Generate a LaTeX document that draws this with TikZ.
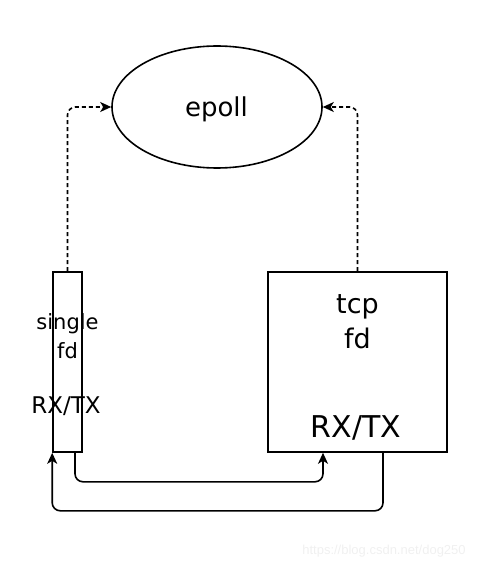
\documentclass[tikz,border=0pt]{standalone}
\usepackage{fontspec}
\setmainfont{DejaVu Sans}
\newfontfamily\markfont{Liberation Sans}
\usetikzlibrary{shapes.geometric,arrows.meta}

\begin{document}
\begin{tikzpicture}[x=1pt,y=-1pt,>={Stealth[length=11pt,width=10pt,inset=3pt]},line width=1.6pt]
        \tikzstyle{every node}=[inner sep=0pt]
        \tikzstyle{box}=[draw,rectangle]
        \tikzstyle{small text}=[anchor=base,font=\fontsize{21}{25}\selectfont]
        \tikzstyle{big text}=[anchor=base,font=\fontsize{27}{32}\selectfont]
        \tikzstyle{link}=[->,rounded corners=8pt]
        \tikzstyle{poll}=[link,dash pattern=on 4pt off 3pt]
        \useasboundingbox (0,0) rectangle (496,572);
        \node[draw,ellipse,minimum width=210pt,minimum height=122pt] (epoll) at (217,107) {};
        \node[big text,font=\fontsize{26}{30}\selectfont] (epolltxt) at (216.5,117) {epoll};
        \node[box,minimum width=29pt,minimum height=180pt] (single) at (67.5,362) {};
        \node[small text] (singlename) at (67.5,329) {single};
        \node[small text] (singlefd) at (67.5,358) {fd};
        \node[small text,font=\fontsize{23}{27}\selectfont] (singlerx) at (66,413) {RX/TX};
        \node[box,minimum width=179pt,minimum height=180pt] (tcp) at (357.5,362) {};
        \node[big text] (tcpname) at (357.5,313) {tcp};
        \node[big text] (tcpfd) at (357.5,348) {fd};
        \node[big text,font=\fontsize{30}{34}\selectfont] (tcprx) at (356,437) {RX/TX};
        \draw[poll] (single.north) |- (epoll.west);
        \draw[poll] (tcp.north) |- (epoll.east);
        \draw[link] ([xshift=7.5pt]single.south) -- ++(0,29) -| ([xshift=-34.5pt]tcp.south);
        \draw[link] ([xshift=25.5pt]tcp.south) -- ++(0,58) -| (single.south west);
        \node[text=gray!12,font=\markfont\fontsize{13}{15}\selectfont] (mark) at (384,551) {https://blog.csdn.net/dog250};
\end{tikzpicture}
\end{document}
